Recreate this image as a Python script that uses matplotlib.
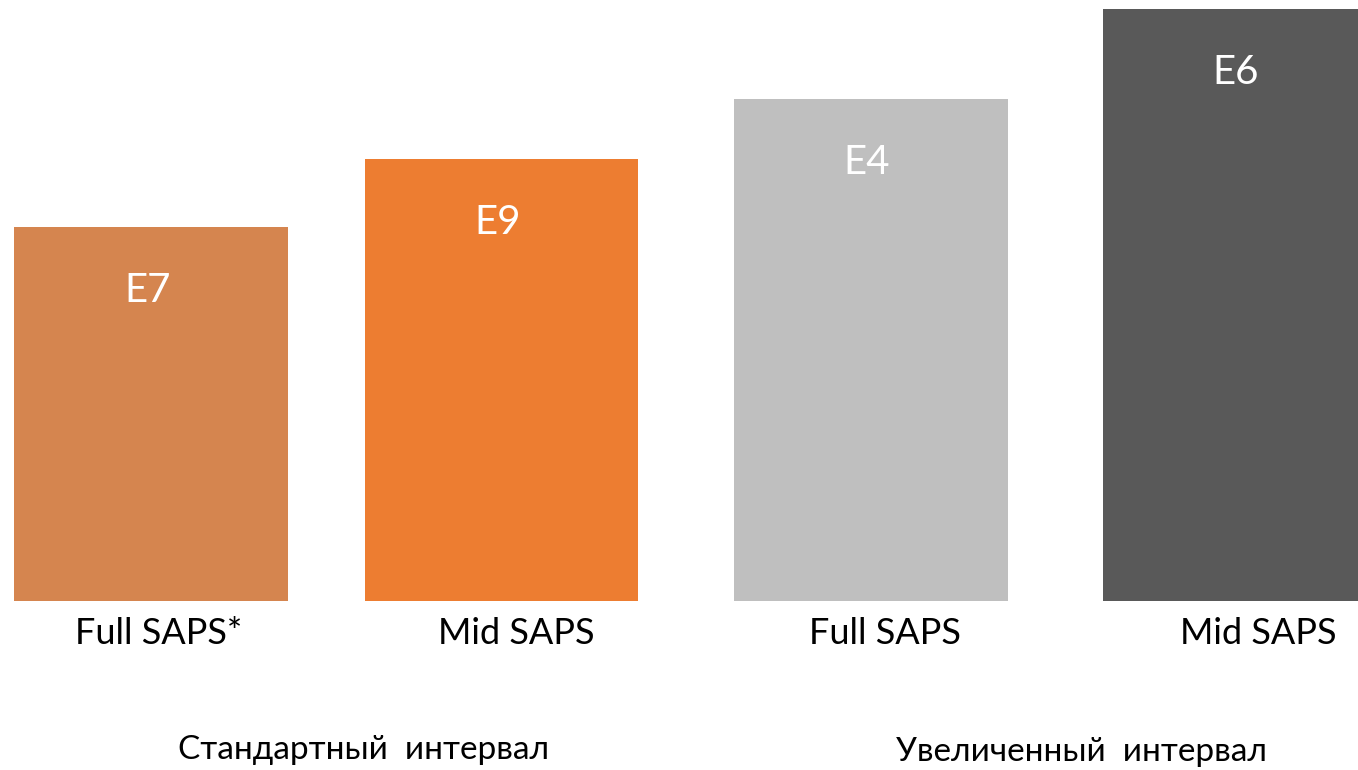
import matplotlib
matplotlib.use("Agg")
import matplotlib.pyplot as plt

categories = ["Full SAPS*", "Mid SAPS", "Full SAPS", "Mid SAPS"]
values = [3.74, 4.42, 5.02, 5.92]
bar_labels = ["E7", "E9", "E4", "E6"]
groups = ["Стандартный  интервал", "Увеличенный  интервал"]
colors = ["#D5854F", "#ED7D31", "#BFBFBF", "#595959"]

positions = [0, 0.95, 1.95, 2.95]
label_pos = [0.02, 0.99, 1.99, 3.0]
group_pos = [0.575, 2.523]
group_y = [-1.49, -1.51]

plt.rcParams['font.family'] = ['Lato', 'DejaVu Sans']

fig = plt.figure(figsize=(13.58, 7.70), dpi=100)
ax = fig.add_axes([0, 0, 1, 1])
ax.bar(positions, values, width=0.7425, color=colors)

for x, v, t in zip(positions, values, bar_labels):
    ax.text(x - 0.01, v - 0.64, t, ha="center", va="center", color="white", fontsize=29)

for x, t in zip(label_pos, categories):
    ax.text(x, -0.33, t, ha="center", va="center", color="black", fontsize=26)

for x, y, t in zip(group_pos, group_y, groups):
    ax.text(x, y, t, ha="center", va="center", color="black", fontsize=24)

ax.set_xlim(-0.409, 3.271)
ax.set_ylim(-1.69, 6.01)
ax.axis("off")
fig.savefig("out.png", dpi=100, facecolor="white")
